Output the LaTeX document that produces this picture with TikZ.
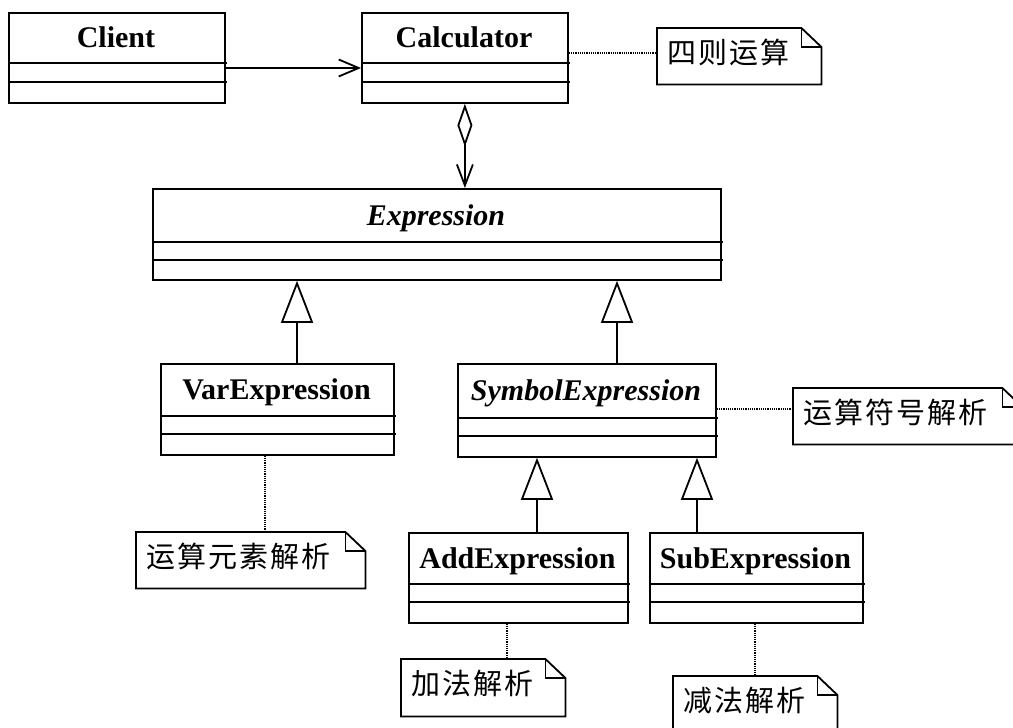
\documentclass[tikz,border=0pt]{standalone}
\usepackage{fontspec}
\setmainfont{Liberation Serif}
\newfontfamily\cjkfont{Noto Sans CJK SC}
\usetikzlibrary{arrows.meta}
\tikzset{
  boxline/.style={line width=1.8pt},
  clsbox/.style={draw, line width=1.8pt, inner sep=0pt, anchor=north west},
  clstitle/.style={font=\fontsize{30}{30}\selectfont\bfseries, anchor=base, inner sep=0pt},
  abstitle/.style={font=\fontsize{30}{30}\selectfont\bfseries\itshape, anchor=base, inner sep=0pt},
  notetext/.style={font=\cjkfont\fontsize{29}{29}\selectfont, anchor=west, inner sep=0pt},
  noteline/.style={line width=1.2pt, densely dotted},
  assoc/.style={line width=1.8pt, -{Straight Barb[length=20pt,width=17pt,line width=1.8pt]}},
  aggr/.style={line width=1.8pt, {Diamond[open,length=43pt,width=15pt,line width=1.8pt]}-{Straight Barb[length=21pt,width=16pt,line width=1.8pt]}},
  inh/.style={line width=1.8pt, -{Triangle[open,length=42pt,width=32pt,line width=1.8pt]}},
}
\newcommand\classbox[9]{% name x1 y1 x2 y2 line1 text style line2
  \node[clsbox, minimum width={#4pt-#2pt}, minimum height={#5pt-#3pt}] (#1) at (#2,#3) {};
  \node[#8] (#1-title) at ({(#2+#4)/2},{(#3+#6)/2+10}) {#7};
  \draw[boxline] (#2,#6) -- ({#4+3},#6);
  \draw[boxline] (#2,#9) -- ({#4+3},#9);
}
\newcommand\notebox[6]{% name x1 y1 x2 y2 text
  \node[inner sep=0pt, minimum width={#4pt-#2pt}, minimum height={#5pt-#3pt}, anchor=north west] (#1) at (#2,#3) {};
  \draw[boxline, line join=miter] (#1.north west) -- ([xshift=-20pt]#1.north east) -- ([yshift=-19pt]#1.north east) -- (#1.south east) -- (#1.south west) -- cycle;
  \draw[boxline] ([xshift=-20pt]#1.north east) -- ([xshift=-20pt,yshift=-19pt]#1.north east) -- ([yshift=-19pt]#1.north east);
  \node[notetext] (#1-text) at ([xshift=10pt,yshift=4pt]#1.west) {#6};
}
\begin{document}
\begin{tikzpicture}[x=1pt,y=-1pt]
\useasboundingbox (0,0) rectangle (1013,728);
\clip (0,0) rectangle (1013,728);
% classes
\classbox{client}{8}{12}{224}{102}{63}{Client}{clstitle}{82}
\classbox{calc}{361}{12}{567}{102}{63}{Calculator}{clstitle}{82}
\classbox{expr}{152}{188}{720}{279}{242}{Expression}{abstitle}{260}
\classbox{var}{160}{363}{393}{454}{416}{VarExpression}{clstitle}{434}
\classbox{sym}{457}{363}{715}{456}{418}{SymbolExpression}{abstitle}{436}
\classbox{add}{408}{532}{627}{622}{584}{AddExpression}{clstitle}{602}
\classbox{sub}{649}{532}{862}{622}{584}{SubExpression}{clstitle}{602}
% notes
\notebox{calcnote}{657}{28}{821}{84}{四\kern2pt 则\kern2pt 运\kern2pt 算}
\notebox{symnote}{793}{388}{1022}{444}{运\kern2pt 算\kern2pt 符\kern2pt 号\kern2pt 解\kern2pt 析}
\notebox{varnote}{136}{532}{365}{588}{运\kern2pt 算\kern2pt 元\kern2pt 素\kern2pt 解\kern2pt 析}
\notebox{addnote}{401}{659}{565}{716}{加\kern2pt 法\kern2pt 解\kern2pt 析}
\notebox{subnote}{673}{676}{837}{732}{减\kern2pt 法\kern2pt 解\kern2pt 析}
% helper coordinates
\path ([yshift=-56pt]client.north east) coordinate (clientout);
\path ([yshift=-41pt]calc.north east) coordinate (calcout);
\path ([yshift=-46pt]sym.north east) coordinate (symout);
\path ([xshift=137pt]var.north west) coordinate (varup);
\path ([xshift=160pt]sym.north west) coordinate (symup);
\path ([xshift=129pt]add.north west) coordinate (addup);
\path ([xshift=48pt]sub.north west) coordinate (subup);
\path ([xshift=105pt]var.south west) coordinate (vardown);
\path ([xshift=99pt]add.south west) coordinate (adddown);
\path ([xshift=106pt]sub.south west) coordinate (subdown);
% connectors
\draw[assoc] (clientout) -- (clientout -| calc.west);
\draw[aggr] (calc.south) -- (calc.south |- expr.north);
\draw[inh] (varup) -- (varup |- expr.south);
\draw[inh] (symup) -- (symup |- expr.south);
\draw[inh] (addup) -- (addup |- sym.south);
\draw[inh] (subup) -- (subup |- sym.south);
% note links
\draw[noteline] (calcout) -- (calcout -| calcnote.west);
\draw[noteline] (symout) -- (symout -| symnote.west);
\draw[noteline] (vardown) -- (vardown |- varnote.north);
\draw[noteline] (adddown) -- (adddown |- addnote.north);
\draw[noteline] (subdown) -- (subdown |- subnote.north);
\end{tikzpicture}
\end{document}
